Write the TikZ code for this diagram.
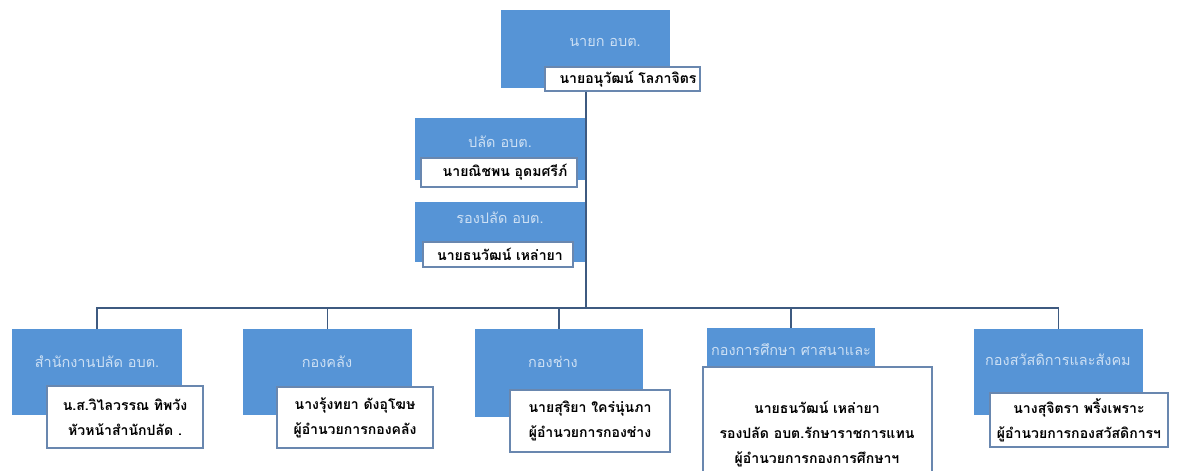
\documentclass[tikz,border=0pt]{standalone}
\usepackage{fontspec}
\newfontfamily\thaifont[Script=Thai]{Loma}
\usetikzlibrary{fit}
\definecolor{hdblue}{RGB}{86,148,214}
\definecolor{hdlight}{RGB}{205,224,244}
\definecolor{nmline}{RGB}{105,135,175}
\definecolor{linkcol}{RGB}{62,90,128}
\tikzset{
  hdbox/.style={fill=hdblue, inner sep=0pt},
  hdtext/.style={text=hdlight, inner sep=0pt, font=\thaifont\fontsize{10.3}{13}\selectfont},
  nmbox/.style={draw=nmline, line width=0.8pt, fill=white, inner sep=0pt},
  nmtext/.style={inner sep=0pt, align=center, font=\thaifont\bfseries\fontsize{10}{18}\selectfont},
  link/.style={draw=linkcol, line width=1.1pt}
}

\begin{document}
\begin{tikzpicture}[x=0.025cm, y=-0.025cm]
            \clip (0,0) rectangle (1181,470);
            \fill[white] (0,0) rectangle (1181,470);
            \coordinate (bus) at (586,308);

            \node[hdbox, fit={(501,10) (670,88)}] (hd0) {};
            \node[hdtext] (hd0t) at (605,42) {นายก อบต.};
            \node[hdbox, fit={(415,118) (585,180)}] (hdp) {};
            \node[hdtext] (hdpt) at (500,142) {ปลัด อบต.};
            \node[hdbox, fit={(415,202) (585,262)}] (hdr) {};
            \node[hdtext] (hdrt) at (500,218) {รองปลัด อบต.};

            \node[hdbox, fit={(12,329) (182,415)}] (hd1) {};
            \node[hdtext] (hd1t) at (97,362) {สำนักงานปลัด อบต.};
            \node[hdbox, fit={(243,329) (412,415)}] (hd2) {};
            \node[hdtext] (hd2t) at (327,362) {กองคลัง};
            \node[hdbox, fit={(475,329) (643,417)}] (hd3) {};
            \node[hdtext] (hd3t) at (553,362) {กองช่าง};
            \node[hdbox, fit={(707,328) (875,368)}] (hd4) {};
            \node[hdtext] (hd4t) at (791,350) {กองการศึกษา ศาสนาและ};
            \node[hdbox, fit={(974,329) (1143,415)}] (hd5) {};
            \node[hdtext] (hd5t) at (1058,360) {กองสวัสดิการและสังคม};

            \node[nmbox, fit={(545,67) (700,91)}] (nm0) {};
            \node[nmtext] (nm0t) at (628,79) {นายอนุวัฒน์ โลภาจิตร};
            \node[nmbox, fit={(421,158) (577,187)}] (nmp) {};
            \node[nmtext] (nmpt) at (505,172) {นายณิชพน อุดมศรีภ์};
            \node[nmbox, fit={(423,242) (573,267)}] (nmr) {};
            \node[nmtext] (nmrt) at (500,254) {นายธนวัฒน์ เหล่ายา};

            \node[nmbox, fit={(47,386) (203,448)}] (nm1) {};
            \node[nmtext] (nm1t) at (nm1.center) {น.ส.วิไลวรรณ ทิพวัง\\หัวหน้าสำนักปลัด .};
            \node[nmbox, fit={(277,387) (433,448)}] (nm2) {};
            \node[nmtext] (nm2t) at (nm2.center) {นางรุ้งทยา ดังอุโฆษ\\ผู้อำนวยการกองคลัง};
            \node[nmbox, fit={(510,390) (670,452)}] (nm3) {};
            \node[nmtext] (nm3t) at (nm3.center) {นายสุริยา ใคร่นุ่นภา\\ผู้อำนวยการกองช่าง};
            \node[nmbox, fit={(703,367) (932,500)}] (nm4) {};
            \node[nmtext] (nm4t) at (817,434) {นายธนวัฒน์ เหล่ายา\\รองปลัด อบต.รักษาราชการแทน\\ผู้อำนวยการกองการศึกษาฯ};
            \node[nmbox, fit={(990,393) (1168,447)}] (nm5) {};
            \node[nmtext] (nm5t) at (nm5.center) {นางสุจิตรา พริ้งเพราะ\\ผู้อำนวยการกองสวัสดิการฯ};

            \draw[link] (nm0.south -| bus) -- (bus);
            \draw[link] (hd1.north) -- (hd1.north |- bus) -- (hd5.north |- bus) -- (hd5.north);
            \draw[link] (hd2.north) -- (hd2.north |- bus);
            \draw[link] (hd3.north) -- (hd3.north |- bus);
            \draw[link] (hd4.north) -- (hd4.north |- bus);
        \end{tikzpicture}
\end{document}
